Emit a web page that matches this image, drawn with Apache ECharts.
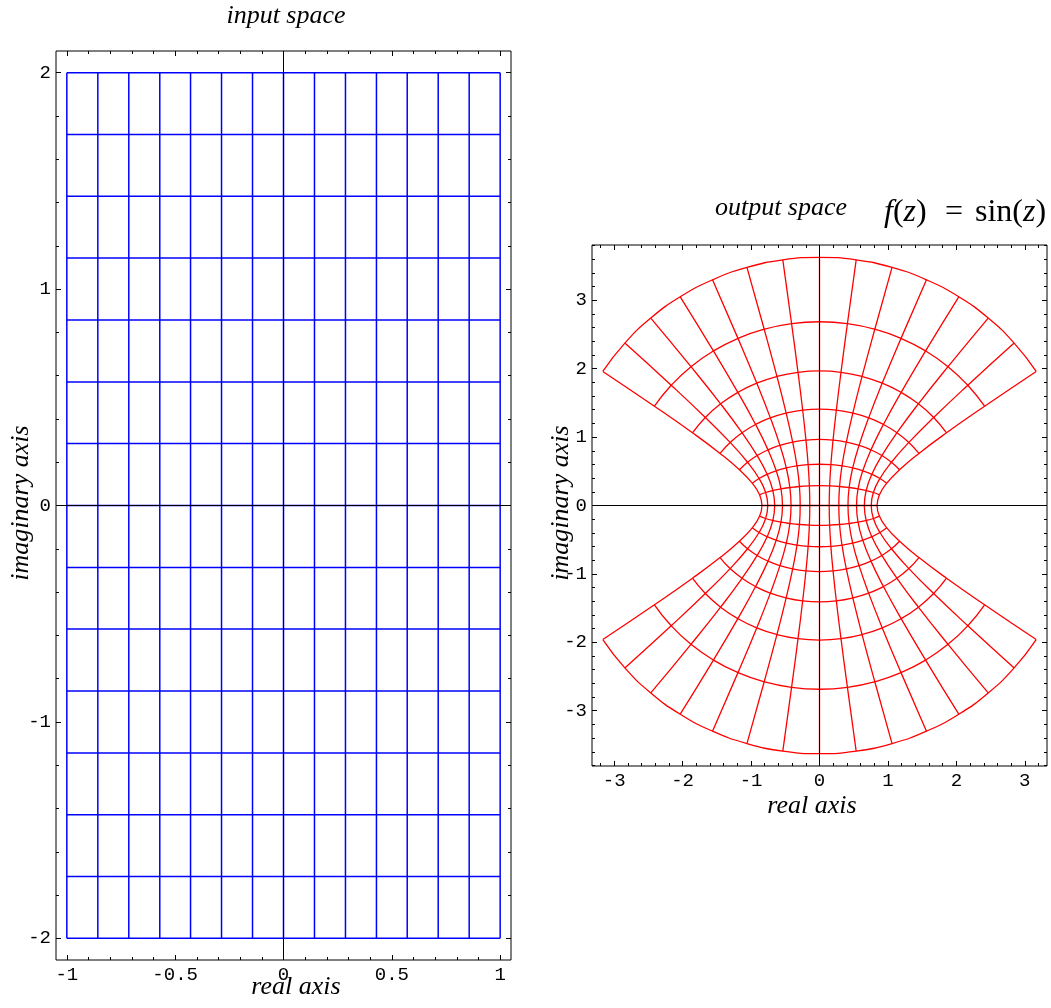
<!DOCTYPE html>
<html>
<head>
<meta charset="utf-8">
<script src="https://cdn.jsdelivr.net/npm/echarts@6/dist/echarts.min.js"></script>
<style>
html,body{margin:0;padding:0;background:#fff;}
#chart{width:1051px;height:1008px;}
</style>
</head>
<body>
<div id="chart"></div>
<script>
// ---- input space grid (z = x + i y) ----
const inputRe = [-1, -0.857, -0.714, -0.571, -0.429, -0.286, -0.143, 0, 0.143, 0.286, 0.429, 0.571, 0.714, 0.857, 1];
const inputIm = [-2, -1.714, -1.429, -1.143, -0.857, -0.571, -0.286, 0, 0.286, 0.571, 0.857, 1.143, 1.429, 1.714, 2];

// ---- output space lattice nodes (rows: input lines of constant Im, y = -2 .. 2; columns: Re, x = -1 .. 1) ----
const outputRe = [
  [-3.166,-2.844,-2.465,-2.035,-1.563,-1.060,-0.536,0,0.536,1.060,1.563,2.035,2.465,2.844,3.166],
  [-2.412,-2.167,-1.878,-1.550,-1.191,-0.808,-0.408,0,0.408,0.808,1.191,1.550,1.878,2.167,2.412],
  [-1.856,-1.668,-1.445,-1.193,-0.917,-0.622,-0.314,0,0.314,0.622,0.917,1.193,1.445,1.668,1.856],
  [-1.453,-1.306,-1.132,-0.934,-0.718,-0.487,-0.246,0,0.246,0.487,0.718,0.934,1.132,1.306,1.453],
  [-1.170,-1.051,-0.911,-0.752,-0.578,-0.392,-0.198,0,0.198,0.392,0.578,0.752,0.911,1.051,1.170],
  [-0.983,-0.883,-0.765,-0.632,-0.485,-0.329,-0.166,0,0.166,0.329,0.485,0.632,0.765,0.883,0.983],
  [-0.876,-0.787,-0.682,-0.563,-0.433,-0.293,-0.148,0,0.148,0.293,0.433,0.563,0.682,0.787,0.876],
  [-0.841,-0.756,-0.655,-0.541,-0.416,-0.282,-0.142,0,0.142,0.282,0.416,0.541,0.655,0.756,0.841],
  [-0.876,-0.787,-0.682,-0.563,-0.433,-0.293,-0.148,0,0.148,0.293,0.433,0.563,0.682,0.787,0.876],
  [-0.983,-0.883,-0.765,-0.632,-0.485,-0.329,-0.166,0,0.166,0.329,0.485,0.632,0.765,0.883,0.983],
  [-1.170,-1.051,-0.911,-0.752,-0.578,-0.392,-0.198,0,0.198,0.392,0.578,0.752,0.911,1.051,1.170],
  [-1.453,-1.306,-1.132,-0.934,-0.718,-0.487,-0.246,0,0.246,0.487,0.718,0.934,1.132,1.306,1.453],
  [-1.856,-1.668,-1.445,-1.193,-0.917,-0.622,-0.314,0,0.314,0.622,0.917,1.193,1.445,1.668,1.856],
  [-2.412,-2.167,-1.878,-1.550,-1.191,-0.808,-0.408,0,0.408,0.808,1.191,1.550,1.878,2.167,2.412],
  [-3.166,-2.844,-2.465,-2.035,-1.563,-1.060,-0.536,0,0.536,1.060,1.563,2.035,2.465,2.844,3.166]
];
const outputIm = [
  [-1.960,-2.374,-2.740,-3.051,-3.299,-3.480,-3.590,-3.627,-3.590,-3.480,-3.299,-3.051,-2.740,-2.374,-1.960],
  [-1.451,-1.758,-2.030,-2.260,-2.443,-2.577,-2.659,-2.686,-2.659,-2.577,-2.443,-2.260,-2.030,-1.758,-1.451],
  [-1.063,-1.287,-1.486,-1.654,-1.789,-1.887,-1.947,-1.967,-1.947,-1.887,-1.789,-1.654,-1.486,-1.287,-1.063],
  [-0.761,-0.922,-1.064,-1.185,-1.281,-1.351,-1.394,-1.408,-1.394,-1.351,-1.281,-1.185,-1.064,-0.922,-0.761],
  [-0.522,-0.632,-0.730,-0.813,-0.879,-0.927,-0.956,-0.966,-0.956,-0.927,-0.879,-0.813,-0.730,-0.632,-0.522],
  [-0.326,-0.395,-0.456,-0.507,-0.549,-0.579,-0.597,-0.603,-0.597,-0.579,-0.549,-0.507,-0.456,-0.395,-0.326],
  [-0.156,-0.190,-0.219,-0.244,-0.263,-0.278,-0.287,-0.290,-0.287,-0.278,-0.263,-0.244,-0.219,-0.190,-0.156],
  [0,0,0,0,0,0,0,0,0,0,0,0,0,0,0],
  [0.156,0.190,0.219,0.244,0.263,0.278,0.287,0.290,0.287,0.278,0.263,0.244,0.219,0.190,0.156],
  [0.326,0.395,0.456,0.507,0.549,0.579,0.597,0.603,0.597,0.579,0.549,0.507,0.456,0.395,0.326],
  [0.522,0.632,0.730,0.813,0.879,0.927,0.956,0.966,0.956,0.927,0.879,0.813,0.730,0.632,0.522],
  [0.761,0.922,1.064,1.185,1.281,1.351,1.394,1.408,1.394,1.351,1.281,1.185,1.064,0.922,0.761],
  [1.063,1.287,1.486,1.654,1.789,1.887,1.947,1.967,1.947,1.887,1.789,1.654,1.486,1.287,1.063],
  [1.451,1.758,2.030,2.260,2.443,2.577,2.659,2.686,2.659,2.577,2.443,2.260,2.030,1.758,1.451],
  [1.960,2.374,2.740,3.051,3.299,3.480,3.590,3.627,3.590,3.480,3.299,3.051,2.740,2.374,1.960]
];

// ---- ticks ----
const leftXMajor = [-1, -0.5, 0, 0.5, 1];
const leftXMinor = [-1,-0.9,-0.8,-0.7,-0.6,-0.5,-0.4,-0.3,-0.2,-0.1,0,0.1,0.2,0.3,0.4,0.5,0.6,0.7,0.8,0.9,1];
const leftYMajor = [-2, -1, 0, 1, 2];
const leftYMinor = [-2,-1.8,-1.6,-1.4,-1.2,-1,-0.8,-0.6,-0.4,-0.2,0,0.2,0.4,0.6,0.8,1,1.2,1.4,1.6,1.8,2];
const rightXMajor = [-3, -2, -1, 0, 1, 2, 3];
const rightXMinor = [-3.2,-3,-2.8,-2.6,-2.4,-2.2,-2,-1.8,-1.6,-1.4,-1.2,-1,-0.8,-0.6,-0.4,-0.2,0,0.2,0.4,0.6,0.8,1,1.2,1.4,1.6,1.8,2,2.2,2.4,2.6,2.8,3,3.2];
const rightYMajor = [-3, -2, -1, 0, 1, 2, 3];
const rightYMinor = [-3.8,-3.6,-3.4,-3.2,-3,-2.8,-2.6,-2.4,-2.2,-2,-1.8,-1.6,-1.4,-1.2,-1,-0.8,-0.6,-0.4,-0.2,0,0.2,0.4,0.6,0.8,1,1.2,1.4,1.6,1.8,2,2.2,2.4,2.6,2.8,3,3.2,3.4,3.6,3.8];

// plot ranges
const leftXRange = [-1.05, 1.05];
const leftYRange = [-2.1, 2.1];
const rightXRange = [-3.324, 3.324];
const rightYRange = [-3.808, 3.808];

const MONO = '"Liberation Mono", "Courier New", monospace';
const SERIF = '"Liberation Serif", "Times New Roman", serif';

function makeAxis(grid, range, position, ticks, len, labels) {
  return {
    type: 'value', gridIndex: grid, min: range[0], max: range[1], position: position,
    axisLine: { show: false, onZero: false },
    splitLine: { show: false },
    axisTick: { show: true, inside: true, length: len, customValues: ticks, lineStyle: { color: '#000', width: 1 } },
    axisLabel: labels ? { show: true, customValues: labels, fontFamily: MONO, fontSize: 19, color: '#000', margin: 5 } : { show: false }
  };
}

const xAxes = [
  makeAxis(0, leftXRange, 'bottom', leftXMajor, 5, leftXMajor),
  makeAxis(0, leftXRange, 'bottom', leftXMinor, 3, null),
  makeAxis(0, leftXRange, 'top', leftXMajor, 5, null),
  makeAxis(0, leftXRange, 'top', leftXMinor, 3, null),
  makeAxis(1, rightXRange, 'bottom', rightXMajor, 5, rightXMajor),
  makeAxis(1, rightXRange, 'bottom', rightXMinor, 3, null),
  makeAxis(1, rightXRange, 'top', rightXMajor, 5, null),
  makeAxis(1, rightXRange, 'top', rightXMinor, 3, null)
];
const yAxes = [
  makeAxis(0, leftYRange, 'left', leftYMajor, 5, leftYMajor),
  makeAxis(0, leftYRange, 'left', leftYMinor, 3, null),
  makeAxis(0, leftYRange, 'right', leftYMajor, 5, null),
  makeAxis(0, leftYRange, 'right', leftYMinor, 3, null),
  makeAxis(1, rightYRange, 'left', rightYMajor, 5, rightYMajor),
  makeAxis(1, rightYRange, 'left', rightYMinor, 3, null),
  makeAxis(1, rightYRange, 'right', rightYMajor, 5, null),
  makeAxis(1, rightYRange, 'right', rightYMinor, 3, null)
];

const series = [];
function lineSeries(axisIdx, data, color, width, smooth, z) {
  return {
    type: 'line', xAxisIndex: axisIdx, yAxisIndex: axisIdx, data: data,
    symbol: 'none', showSymbol: false, smooth: smooth, silent: true,
    lineStyle: { color: color, width: width }, z: z || 2, animation: false
  };
}
// input grid
const yMin = inputIm[0], yMax = inputIm[inputIm.length - 1];
const xMin = inputRe[0], xMax = inputRe[inputRe.length - 1];
inputRe.forEach(x => series.push(lineSeries(0, [[x, yMin], [x, yMax]], '#0000ff', 1.5, false)));
inputIm.forEach(y => series.push(lineSeries(0, [[xMin, y], [xMax, y]], '#0000ff', 1.5, false)));
// output curves: images of horizontal input lines
outputRe.forEach((row, j) => {
  series.push(lineSeries(4, row.map((u, i) => [u, outputIm[j][i]]), '#ff0000', 1.3, 0.5));
});
// images of vertical input lines
inputRe.forEach((_, i) => {
  series.push(lineSeries(4, outputRe.map((row, j) => [row[i], outputIm[j][i]]), '#ff0000', 1.3, 0.5));
});
// coordinate axes through the origin
series.push(lineSeries(0, [[0, leftYRange[0]], [0, leftYRange[1]]], '#000', 1, false, 5));
series.push(lineSeries(0, [[leftXRange[0], 0], [leftXRange[1], 0]], '#000', 1, false, 5));
series.push(lineSeries(4, [[0, rightYRange[0]], [0, rightYRange[1]]], '#000', 1, false, 5));
series.push(lineSeries(4, [[rightXRange[0], 0], [rightXRange[1], 0]], '#000', 1, false, 5));

function label(text, x, y, size, rot, extra) {
  return {
    type: 'text', x: x, y: y, rotation: rot || 0, silent: true, z: 10,
    style: Object.assign({ text: text, fontFamily: SERIF, fontStyle: 'italic', fontSize: size, fill: '#000', align: 'center', verticalAlign: 'middle' }, extra || {})
  };
}

const option = {
  animation: false,
  backgroundColor: '#fff',
  grid: [
    { left: 56, top: 51, width: 455, height: 909, show: true, borderColor: '#000', borderWidth: 1, backgroundColor: 'transparent', containLabel: false },
    { left: 592, top: 245, width: 455, height: 521, show: true, borderColor: '#000', borderWidth: 1, backgroundColor: 'transparent', containLabel: false }
  ],
  xAxis: xAxes,
  yAxis: yAxes,
  series: series,
  graphic: [
    label('input space', 286, 16.5, 26),
    label('real axis', 296, 987, 26),
    label('imaginary axis', 21, 503, 26, Math.PI / 2),
    label('output space', 781, 208, 26),
    label('real axis', 812, 806, 26),
    label('imaginary axis', 561, 503, 26, Math.PI / 2),
    {
      type: 'text', x: 884, y: 213, silent: true, z: 10,
      style: { text: '{i|f}{r|(}{i|z}{r|)}', align: 'left', verticalAlign: 'middle', fill: '#000',
        rich: { i: { fontFamily: SERIF, fontStyle: 'italic', fontSize: 32 }, r: { fontFamily: SERIF, fontSize: 32 } } }
    },
    label('=', 954, 213, 32, 0, { fontStyle: 'normal' }),
    {
      type: 'text', x: 975, y: 213, silent: true, z: 10,
      style: { text: '{r|sin(}{i|z}{r|)}', align: 'left', verticalAlign: 'middle', fill: '#000',
        rich: { i: { fontFamily: SERIF, fontStyle: 'italic', fontSize: 32 }, r: { fontFamily: SERIF, fontSize: 32 } } }
    }
  ]
};

const chart = echarts.init(document.getElementById('chart'), null, { renderer: 'canvas' });
chart.setOption(option);
</script>
</body>
</html>
